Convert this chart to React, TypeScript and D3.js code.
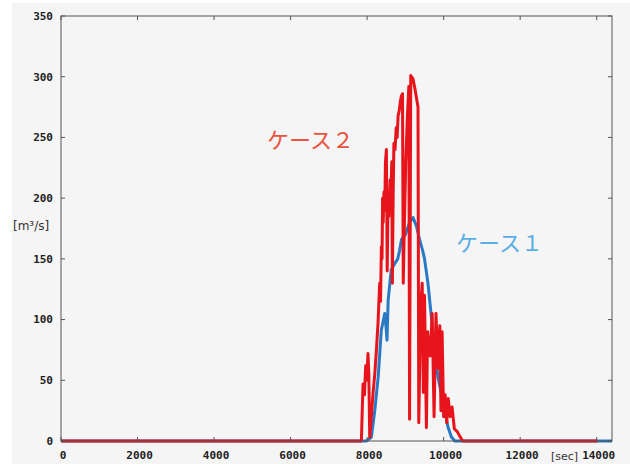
import React from "react";
import * as d3 from "d3";

const xTicks = [0, 2000, 4000, 6000, 8000, 10000, 12000, 14000];
const yTicks = [0, 50, 100, 150, 200, 250, 300, 350];

// ケース1 (blue) : time [sec], discharge [m3/s]
const case1T = [0, 7980, 8110, 8200, 8290, 8370, 8460, 8500, 8520, 8550, 8630, 8720, 8800, 8850, 8900, 9000, 9110, 9200, 9290, 9370, 9450, 9500, 9590, 9680, 9770, 9850, 9940, 10030, 10110, 10200, 10290, 14400];
const case1V = [0, 0, 3, 25, 53, 91, 105, 92, 83, 116, 141, 146, 150, 157, 166, 170, 180, 184, 177, 166, 157, 150, 130, 102, 75, 53, 39, 25, 12, 3.5, 0, 0];

// ケース2 (red)
const case2T = [0, 7850, 7893, 7930, 7963, 7990, 8023, 8045, 8068, 8110, 8154, 8200, 8243, 8285, 8329, 8350, 8373, 8390, 8405, 8420, 8440, 8460, 8480, 8504, 8525, 8545, 8570, 8600, 8625, 8645, 8660, 8680, 8700, 8730, 8760, 8785, 8810, 8840, 8870, 8896, 8925, 8945, 8975, 9010, 9050, 9090, 9110, 9140, 9200, 9250, 9330, 9350, 9400, 9440, 9470, 9500, 9550, 9580, 9650, 9700, 9750, 9800, 9850, 9900, 9930, 9960, 10000, 10040, 10080, 10120, 10170, 10220, 10280, 10350, 10420, 10500, 14020];
const case2V = [0, 0, 47, 38, 62, 50, 72, 55, 3, 20, 39, 55, 75, 97, 130, 115, 160, 150, 200, 180, 205, 190, 230, 240, 140, 195, 185, 215, 205, 230, 130, 200, 245, 240, 258, 250, 268, 272, 280, 284, 286, 130, 180, 230, 265, 292, 18, 301, 298, 290, 275, 15, 110, 130, 40, 120, 11, 90, 70, 105, 20, 105, 60, 95, 25, 90, 20, 38, 15, 35, 20, 28, 10, 8, 4, 0, 0];

const labelCase2 = "ケース２";
const labelCase1 = "ケース１";
const yUnit = "[m³/s]";
const xUnit = "[sec]";

export default function App() {
  const W = 630, H = 464;
  const x = d3.scaleLinear().domain([0, 14400]).range([61, 612]);
  const y = d3.scaleLinear().domain([0, 350]).range([441, 16]);
  const line = d3.line<[number, number]>().x(d => x(d[0])).y(d => y(d[1]));
  const blue = line(case1T.map((t, i) => [t, case1V[i]] as [number, number])) || "";
  const red = line(case2T.map((t, i) => [t, case2V[i]] as [number, number])) || "";
  const [x0, x1] = x.range();
  const [yb, yt] = y.range();
  const axisColor = "#555";
  const tickFont = "'DejaVu Sans Mono', monospace";
  return (
    <div style={{ position: "absolute", left: 0, top: 0 }}>
      <svg width={W} height={H} style={{ display: "block" }}>
        <rect x={0} y={0} width={W} height={H} fill="#ffffff" />
        <rect x={12} y={3} width={W - 12} height={H - 3} fill="#f5f5f5" />
        <path d={blue} fill="none" stroke="#2a79c4" strokeWidth={3} strokeLinejoin="round" />
        <path d={red} fill="none" stroke="#e8141c" strokeWidth={3} strokeLinejoin="round" />
        <rect x={x0} y={yt} width={x1 - x0} height={yb - yt} fill="none" stroke={axisColor} strokeWidth={1} />
        {yTicks.map(v => (
          <g key={"y" + v}>
            <line x1={x0} x2={x0 + 4} y1={y(v)} y2={y(v)} stroke={axisColor} />
            <line x1={x1} x2={x1 - 4} y1={y(v)} y2={y(v)} stroke={axisColor} />
            <text x={53} y={y(v)} dy="0.35em" textAnchor="end" fontFamily={tickFont} fontWeight="bold" fontSize={11} fill="#222">{v}</text>
          </g>
        ))}
        {xTicks.map(v => (
          <g key={"x" + v}>
            <line x1={x(v)} x2={x(v)} y1={yb} y2={yb - 4} stroke={axisColor} />
            <line x1={x(v)} x2={x(v)} y1={yt} y2={yt + 4} stroke={axisColor} />
            <text x={x(v) + 2} y={455} dy="0.35em" textAnchor="middle" fontFamily={tickFont} fontWeight="bold" fontSize={11} fill="#222">{v}</text>
          </g>
        ))}
        <text x={13} y={230} fontFamily="'DejaVu Sans', sans-serif" fontSize={12} fill="#333">{yUnit}</text>
        <text x={551} y={460} fontFamily="'DejaVu Sans', sans-serif" fontSize={11} fill="#333">{xUnit}</text>
        <text x={267} y={148} fontFamily="'Noto Sans CJK JP', sans-serif" fontSize={22} fill="#ea5240">{labelCase2}</text>
        <text x={456} y={251} fontFamily="'Noto Sans CJK JP', sans-serif" fontSize={22} fill="#5aaee6">{labelCase1}</text>
      </svg>
    </div>
  );
}
